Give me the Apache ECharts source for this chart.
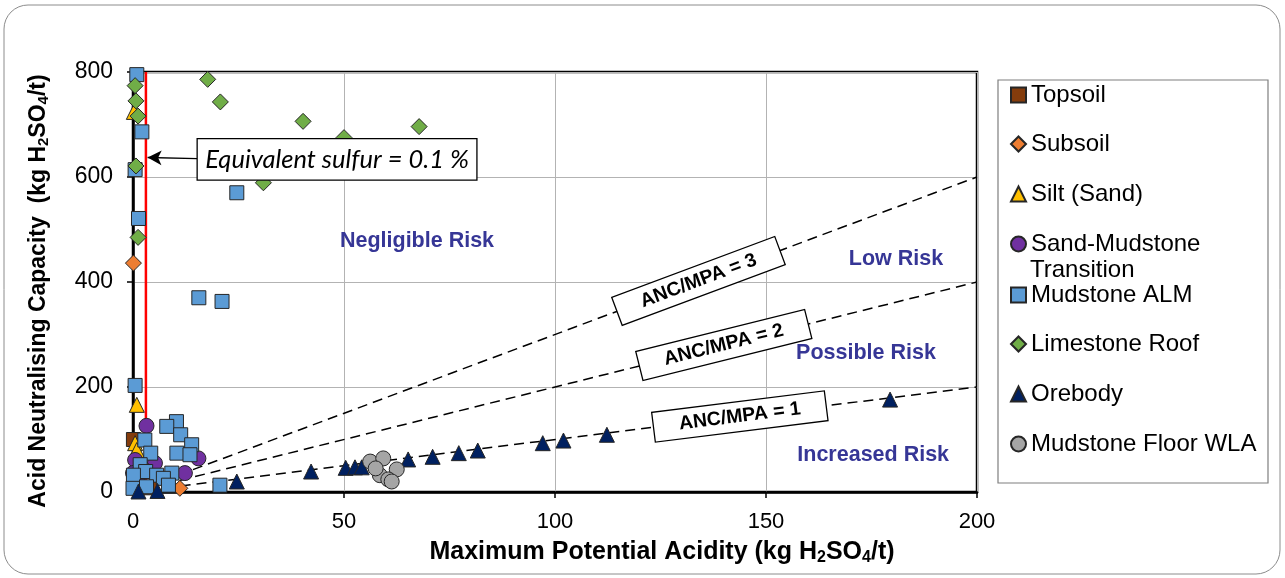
<!DOCTYPE html>
<html>
<head>
<meta charset="utf-8">
<script src="https://cdn.jsdelivr.net/npm/echarts@6/dist/echarts.min.js"></script>
<style>
  html, body { margin: 0; padding: 0; background: #fff; }
  #chart { width: 1285px; height: 578px; }
</style>
</head>
<body>
<div id="chart"></div>
<script>
// ---- Data: [MPA, ANC] pairs in kg H2SO4/t ----
const topsoil = [[0.1, 100], [4.0, 8], [1.0, 22]];
const subsoil = [[0.1, 436], [11.1, 7], [2.0, 15]];
const silt = [[0.9, 166], [0.5, 93], [0.9, 80], [0.2, 724]];
const sandMudstone = [[3.2, 126], [15.5, 64], [12.3, 36], [5.2, 55], [0.5, 61], [0.0, 36], [2.0, 48], [1.0, 20]];
const mudstoneALM = [
  [0.9, 795], [2.1, 686], [0.5, 614], [1.3, 521], [24.6, 570], [15.6, 370], [21.1, 363], [0.5, 203],
  [10.3, 134], [8.0, 125], [11.3, 109], [13.9, 90], [10.4, 74], [13.5, 71], [2.8, 99], [4.2, 74],
  [1.7, 52], [3.0, 39], [5.6, 32], [9.2, 36], [7.2, 26], [0.1, 32], [0.0, 7], [20.6, 13], [8.4, 13], [3.2, 10]
];
const limestoneRoof = [
  [0.5, 774], [0.7, 745], [1.2, 716], [0.7, 621], [1.2, 485],
  [17.7, 786], [20.7, 743], [40.3, 706], [50.0, 675], [67.8, 696], [30.9, 589]
];
const orebody = [
  [1.3, 1], [5.8, 2], [24.6, 20], [42.2, 39], [50.4, 46], [52.6, 47], [54.2, 47], [65.2, 62],
  [71.0, 67], [77.2, 74], [81.7, 79], [97.1, 93], [102.0, 98], [112.3, 109], [179.4, 176]
];
const mudstoneFloorWLA = [[56.2, 58], [59.3, 64], [62.5, 43], [58.5, 32], [60.5, 24], [61.3, 20], [57.5, 45]];

// ANC/MPA ratio guide lines and the sulfur cut-off
const ancMpaRatios = [3, 2, 1];
const sulfurPercent = 0.1;            // equivalent sulfur, %
const mpaPerPercentS = 30.6;          // kg H2SO4/t per % S
const xTicks = { min: 0, max: 200, step: 50 };
const yTicks = { min: 0, max: 800, step: 200 };

const FONT = "'Liberation Sans', Arial, Helvetica, sans-serif";
const sulfurMPA = sulfurPercent * mpaPerPercentS;

const groups = [
  { name: 'Topsoil', data: topsoil, symbol: 'rect', size: 14, color: '#843C0C' },
  { name: 'Subsoil', data: subsoil, symbol: 'diamond', size: 16, color: '#ED7D31' },
  { name: 'Silt (Sand)', data: silt, symbol: 'triangle', size: 15, color: '#FFC000' },
  { name: 'Sand-Mudstone Transition', data: sandMudstone, symbol: 'circle', size: 15, color: '#7030A0' },
  { name: 'Mudstone ALM', data: mudstoneALM, symbol: 'rect', size: 14, color: '#5B9BD5' },
  { name: 'Limestone Roof', data: limestoneRoof, symbol: 'diamond', size: 16, color: '#70AD47' },
  { name: 'Orebody', data: orebody, symbol: 'triangle', size: 15, color: '#002060' },
  { name: 'Mudstone Floor WLA', data: mudstoneFloorWLA, symbol: 'circle', size: 15, color: '#A5A5A5' }
];

// legend row centres (px) inside the legend frame
const legendRowY = [95, 144, 194, 244, 295, 344, 394, 444];

const ratioSeries = ancMpaRatios.map(r => ({
  type: 'line',
  name: 'ANC/MPA = ' + r,
  data: [[xTicks.min, 0], [xTicks.max, xTicks.max * r]],
  symbol: 'none',
  silent: true,
  z: 1,
  lineStyle: { color: '#000', width: 1.5, type: [10, 6] }
}));

const sulfurSeries = {
  type: 'line',
  name: 'Equivalent sulfur',
  data: [[sulfurMPA, yTicks.min], [sulfurMPA, yTicks.max]],
  symbol: 'none',
  silent: true,
  z: 1,
  lineStyle: { color: '#FF0000', width: 2.5 },
  markLine: {
    silent: true,
    symbol: ['none', 'arrow'],
    symbolSize: [11, 14],
    lineStyle: { color: '#000', width: 1.5, type: 'solid' },
    label: { show: false },
    data: [[{ coord: [15.2, 635] }, { coord: [sulfurMPA + 0.4, 637] }]]
  }
};

const scatterSeries = groups.map(g => ({
  type: 'scatter',
  name: g.name,
  data: g.data,
  symbol: g.symbol,
  symbolSize: g.size,
  z: 3,
  itemStyle: { color: g.color, borderColor: '#262626', borderWidth: 1, opacity: 1 },
  emphasis: { disabled: true }
}));

const legends = groups.map((g, i) => ({
  data: [{ name: g.name, icon: g.symbol }],
  left: 1010,
  top: legendRowY[i] - 13,
  padding: 0,
  itemWidth: 15,
  itemHeight: 15,
  selectedMode: false,
  formatter: n => n === 'Sand-Mudstone Transition' ? 'Sand-Mudstone' : n,
  textStyle: { fontFamily: FONT, fontSize: 24, color: '#000', lineHeight: 26 }
}));

const richFor = (big, small) => ({
  t: { fontFamily: FONT, fontSize: big, fontWeight: 'bold', color: '#000' },
  s: { fontFamily: FONT, fontSize: small, fontWeight: 'bold', color: '#000', padding: [Math.round(big * 0.45), 0, 0, 0] }
});

const option = {
  backgroundColor: '#fff',
  animation: false,
  grid: { left: 133, right: 308, top: 72, bottom: 86, show: true, borderColor: '#000', borderWidth: 2.5, backgroundColor: 'transparent' },
  legend: legends,
  xAxis: {
    type: 'value', min: xTicks.min, max: xTicks.max, interval: xTicks.step,
    axisLine: { show: true, onZero: false, lineStyle: { color: '#000', width: 2.5 } },
    axisTick: { show: true, length: 6, lineStyle: { color: '#000', width: 1.5 } },
    axisLabel: { fontFamily: FONT, fontSize: 22, color: '#000', margin: 19 },
    splitLine: { show: true, lineStyle: { color: '#b3b3b3', width: 1 } },
    name: '{t|Maximum Potential Acidity (kg H}{s|2}{t|SO}{s|4}{t|/t)}',
    nameLocation: 'middle', nameGap: 47,
    nameTextStyle: { rich: richFor(25, 16), padding: [0, 0, 0, 214] }
  },
  yAxis: {
    type: 'value', min: yTicks.min, max: yTicks.max, interval: yTicks.step,
    axisLine: { show: true, onZero: false, lineStyle: { color: '#000', width: 2.5 } },
    axisTick: { show: true, length: 6, lineStyle: { color: '#000', width: 1.5 } },
    axisLabel: { fontFamily: FONT, fontSize: 23, color: '#000', margin: 20 },
    splitLine: { show: true, lineStyle: { color: '#b3b3b3', width: 1 } },
    name: '{t|Acid Neutralising Capacity  (kg H}{s|2}{t|SO}{s|4}{t|/t)}',
    nameLocation: 'middle', nameGap: 82, nameRotate: 90,
    nameTextStyle: { rich: richFor(23, 15), padding: [0, 18, 0, 0] }
  },
  series: [...ratioSeries, sulfurSeries, ...scatterSeries]
};

const chart = echarts.init(document.getElementById('chart'), null, { renderer: 'canvas' });
chart.setOption(option);

// ---- Annotations anchored to data coordinates ----
const toPx = p => chart.convertToPixel({ gridIndex: 0 }, p);

// where along each ratio line its label box sits (MPA value)
const ratioLabelAt = { 3: 134, 2: 140, 1: 143.8 };
const riskLabels = [
  { text: 'Negligible Risk', at: [67.3, 477] },
  { text: 'Low Risk', at: [180.8, 444] },
  { text: 'Possible Risk', at: [173.7, 265] },
  { text: 'Increased Risk', at: [175.4, 71] }
];

const graphics = [];

// outer frame
graphics.push({
  type: 'rect', silent: true, z: 0,
  shape: { x: 4, y: 5, width: 1276, height: 569, r: 24 },
  style: { fill: 'none', stroke: '#8c8c8c', lineWidth: 1 }
});

// legend frame and wrapped label line
graphics.push({
  type: 'rect', silent: true, z: 0,
  shape: { x: 998, y: 80, width: 270, height: 403 },
  style: { fill: 'none', stroke: '#7f7f7f', lineWidth: 1.2 }
});
graphics.push({
  type: 'text', silent: true, z: 10,
  x: 1030, y: 270,
  style: { text: 'Transition', fontFamily: FONT, fontSize: 24, fill: '#000', textVerticalAlign: 'middle' }
});

ancMpaRatios.forEach(r => {
  const a = toPx([0, 0]);
  const b = toPx([xTicks.max, xTicks.max * r]);
  const rot = Math.atan2(a[1] - b[1], b[0] - a[0]);
  const mx = ratioLabelAt[r];
  const c = toPx([mx, mx * r]);
  graphics.push({
    type: 'group', x: c[0], y: c[1], rotation: rot, silent: true,
    children: [
      { type: 'rect', z: 50, shape: { x: -87, y: -15, width: 174, height: 30 }, style: { fill: '#fff', stroke: '#000', lineWidth: 1.3 } },
      { type: 'text', z: 51, x: 0, y: 0, style: { text: 'ANC/MPA = ' + r, fontFamily: FONT, fontSize: 19.5, fontWeight: 'bold', fill: '#000', textAlign: 'center', textVerticalAlign: 'middle' } }
    ]
  });
});

riskLabels.forEach(l => {
  const p = toPx(l.at);
  graphics.push({
    type: 'text', silent: true, z: 50, x: p[0], y: p[1],
    style: { text: l.text, fontFamily: FONT, fontSize: 21.5, fontWeight: 'bold', fill: '#363696', textAlign: 'center', textVerticalAlign: 'middle' }
  });
});

// equivalent sulfur callout box
const boxTL = toPx([15.2, 673]);
const boxBR = toPx([81.5, 594]);
graphics.push({
  type: 'group', silent: true,
  children: [
    { type: 'rect', z: 50, shape: { x: boxTL[0], y: boxTL[1], width: boxBR[0] - boxTL[0], height: boxBR[1] - boxTL[1] }, style: { fill: '#fff', stroke: '#000', lineWidth: 1.3 } },
    { type: 'text', z: 51, x: (boxTL[0] + boxBR[0]) / 2, y: (boxTL[1] + boxBR[1]) / 2,
      style: { text: 'Equivalent sulfur = ' + sulfurPercent + ' %', fontFamily: "Lato, 'Open Sans', sans-serif", fontStyle: 'italic', fontSize: 25.5, fill: '#000', textAlign: 'center', textVerticalAlign: 'middle' } }
  ]
});

chart.setOption({ graphic: graphics });
</script>
</body>
</html>
